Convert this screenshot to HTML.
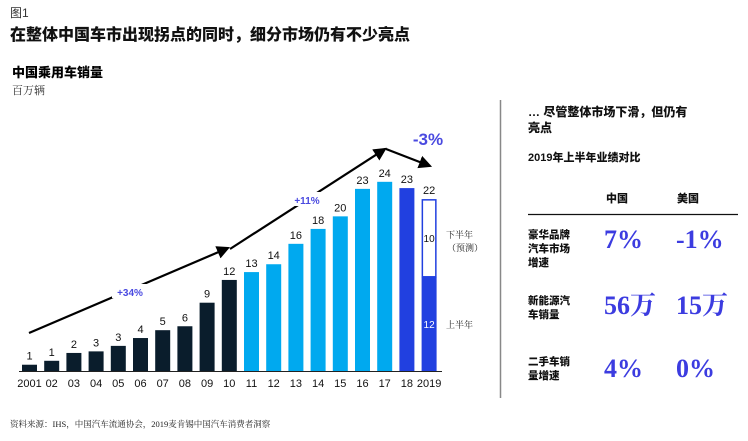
<!DOCTYPE html>
<html><head><meta charset="utf-8"><style>
body{margin:0;background:#fff;}
svg text{font-family:"Liberation Sans","Noto Sans CJK SC",sans-serif;}
.cjk{font-family:"Liberation Serif","Noto Serif CJK SC",serif;}
.cjkb{font-family:"Liberation Sans","Noto Sans CJK SC",sans-serif;font-weight:900;}
</style></head><body>
<svg id="chart" width="748" height="436" viewBox="0 0 748 436" xmlns="http://www.w3.org/2000/svg">
<text x="10" y="17" font-size="12" fill="#333">图1</text>
<text x="10" y="40" font-size="16" fill="#111" class="cjkb">在整体中国车市出现拐点的同时，细分市场仍有不少亮点</text>
<text x="12" y="77" font-size="13" fill="#000" class="cjkb">中国乘用车销量</text>
<text x="12" y="94" font-size="11" fill="#333" class="cjk">百万辆</text>
<g id="bars"></g>
<line x1="19" y1="371.5" x2="442" y2="371.5" stroke="#222" stroke-width="1"/>
<defs><marker id="ah" markerWidth="6" markerHeight="6" refX="5" refY="3" orient="auto"><path d="M0,0 L6,3 L0,6 z" fill="#000"/></marker></defs>
<polyline points="29,333 228,248" fill="none" stroke="#000" stroke-width="2.2" marker-end="url(#ah)"/>
<polyline points="230,249 385,149" fill="none" stroke="#000" stroke-width="2.2" marker-end="url(#ah)"/>
<polyline points="386,149 430,166" fill="none" stroke="#000" stroke-width="2.2" marker-end="url(#ah)"/>
<rect x="112" y="284" width="36" height="14" fill="#fff"/>
<text x="130" y="296" font-size="10" font-weight="bold" fill="#4a4ae0" text-anchor="middle">+34%</text>
<rect x="290" y="192" width="34" height="14" fill="#fff"/>
<text x="307" y="204" font-size="10" font-weight="bold" fill="#4a4ae0" text-anchor="middle">+11%</text>
<text x="428" y="145" font-size="17" font-weight="bold" fill="#4a4ae0" text-anchor="middle">-3%</text>
<text x="446" y="238" font-size="9" fill="#222" class="cjk">下半年</text>
<text x="447" y="251" font-size="9" fill="#222" class="cjk">（预测）</text>
<text x="446" y="328" font-size="9" fill="#222" class="cjk">上半年</text>
<line x1="500.5" y1="100" x2="500.5" y2="398" stroke="#888" stroke-width="1.5"/>
<text x="528" y="116" font-size="12" fill="#111" class="cjkb">… 尽管整体市场下滑，但仍有</text>
<text x="528" y="132" font-size="12" fill="#111" class="cjkb">亮点</text>
<text x="528" y="161" font-size="11" fill="#111" class="cjkb">2019年上半年业绩对比</text>
<text x="606" y="202" font-size="11" fill="#111" class="cjkb">中国</text>
<text x="677" y="202" font-size="11" fill="#111" class="cjkb">美国</text>
<line x1="528" y1="214.5" x2="738" y2="214.5" stroke="#111" stroke-width="1.2"/>
<g class="cjkb" font-size="10.5" fill="#111">
<text x="528" y="238"><tspan x="528">豪华品牌</tspan><tspan x="528" dy="14">汽车市场</tspan><tspan x="528" dy="14">增速</tspan></text>
<text x="528" y="304"><tspan x="528">新能源汽</tspan><tspan x="528" dy="14">车销量</tspan></text>
<text x="528" y="365"><tspan x="528">二手车销</tspan><tspan x="528" dy="14">量增速</tspan></text>
</g>
<g font-size="26" font-weight="bold" fill="#3c3ce0">
<text x="604" y="248" style="font-family:'Liberation Serif','Noto Serif CJK SC',serif">7%</text>
<text x="676" y="248" style="font-family:'Liberation Serif','Noto Serif CJK SC',serif">-1%</text>
<text x="604" y="314" style="font-family:'Liberation Serif','Noto Serif CJK SC',serif">56万</text>
<text x="676" y="314" style="font-family:'Liberation Serif','Noto Serif CJK SC',serif">15万</text>
<text x="604" y="377" style="font-family:'Liberation Serif','Noto Serif CJK SC',serif">4%</text>
<text x="676" y="377" style="font-family:'Liberation Serif','Noto Serif CJK SC',serif">0%</text>
</g>
<text x="10" y="427" font-size="8.5" fill="#222" class="cjk">资料来源：IHS，中国汽车流通协会，2019麦肯锡中国汽车消费者洞察</text>
</svg>
<script>
const years = ["2001","02","03","04","05","06","07","08","09","10","11","12","13","14","15","16","17","18","2019"];
const sales = [0.8,1.3,2.3,2.5,3.2,4.2,5.2,5.7,8.7,11.6,12.6,13.6,16.2,18.1,19.7,23.2,24.1,23.3,21.9];
const valueLabels = ["1","1","2","3","3","4","5","6","9","12","13","14","16","18","20","23","24","23","22"];
const firstHalf2019 = 12.0;
const firstHalfLabel = "12";
const secondHalfLabel = "10";
const baseY = 371, scaleY = 7.85, x0 = 22, pitch = 22.2, bw = 15;
function xPos(i){return x0 + i*pitch;}
function yPos(v){return baseY - v*scaleY;}
const NS = "http://www.w3.org/2000/svg";
const g = document.getElementById("bars");
function mk(tag, attrs){const e=document.createElementNS(NS,tag);for(const k in attrs)e.setAttribute(k,attrs[k]);return e;}
years.forEach((y,i)=>{
  const x = xPos(i), v = sales[i];
  const color = i < 10 ? "#0a1d2c" : (i < 17 ? "#00a9ef" : "#2140e0");
  if (i === years.length-1) {
    const r1 = mk("rect",{x:x,y:yPos(firstHalf2019),width:bw,height:baseY-yPos(firstHalf2019),fill:"#2140e0"});
    
    
    g.appendChild(r1);
    const r2 = mk("rect",{x:x+0.75,y:yPos(v)+0.75,width:bw-1.5,height:yPos(firstHalf2019)-yPos(v)-0.75,fill:"#fff",stroke:"#2140e0","stroke-width":1.5});
    
    
    g.appendChild(r2);
    const t1 = mk("text",{x:x+bw/2,y:(yPos(firstHalf2019)+baseY)/2+4,"font-size":10,fill:"#fff","text-anchor":"middle"});
    t1.textContent = firstHalfLabel;
    
    
    g.appendChild(t1);
    const t2 = mk("text",{x:x+bw/2,y:(yPos(v)+yPos(firstHalf2019))/2+4,"font-size":10,fill:"#111","text-anchor":"middle"});
    t2.textContent = secondHalfLabel;
    
    
    g.appendChild(t2);
  } else {
    const r = mk("rect",{x:x,y:yPos(v),width:bw,height:baseY-yPos(v),fill:color});
    
    
    g.appendChild(r);
  }
  const vt = mk("text",{x:x+bw/2,y:yPos(v)-5,"font-size":11,fill:"#111","text-anchor":"middle"});
  vt.textContent = valueLabels[i];
  
  
  g.appendChild(vt);
  const xt = mk("text",{x:x+bw/2,y:387,"font-size":11,fill:"#111","text-anchor":"middle"});
  xt.textContent = y;
  
  
  g.appendChild(xt);
});
</script>
</body></html>
